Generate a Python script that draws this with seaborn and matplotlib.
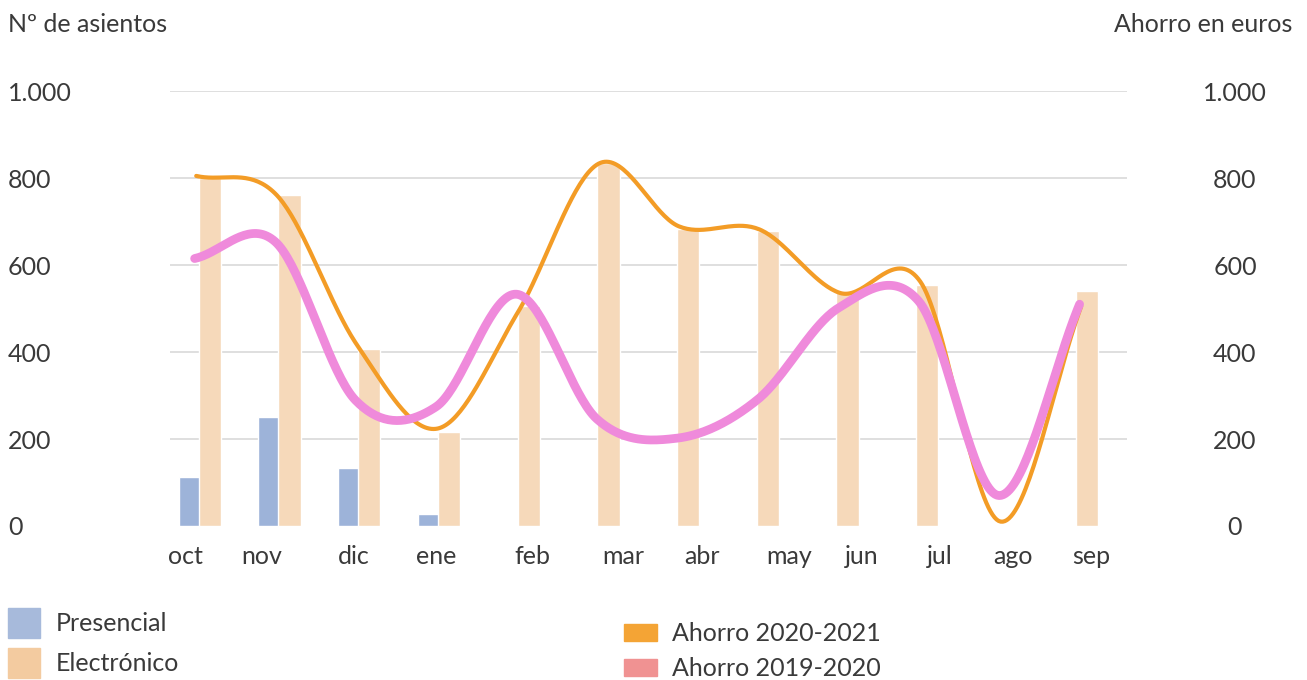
import numpy as np
import pandas as pd
import matplotlib
matplotlib.use('Agg')
import matplotlib.pyplot as plt
import seaborn as sns
from matplotlib.patches import Patch

meses = ['oct', 'nov', 'dic', 'ene', 'feb', 'mar', 'abr', 'may', 'jun', 'jul', 'ago', 'sep']
presencial = [112, 251, 133, 27, 0, 0, 0, 0, 0, 0, 0, 0]
electronico = [800, 760, 408, 215, 506, 834, 682, 679, 540, 555, 0, 540]
ahorro_2021 = [805, 761, 416, 224, 492, 833, 689, 682, 536, 562, 10, 505]
ahorro_2020 = [615, 654, 289, 274, 533, 246, 202, 291, 501, 517, 70, 510]
yticks = [0, 200, 400, 600, 800, 1000]
ytick_labels = ['0', '200', '400', '600', '800', '1.000']


def suave(x, y, n=40):
    # curva catmull-rom, parecida a la linea suavizada de Excel
    p = np.column_stack([x, y]).astype(float)
    m = np.zeros_like(p)
    m[1:-1] = (p[2:] - p[:-2]) / 2
    m[0] = p[1] - p[0]
    m[-1] = p[-1] - p[-2]
    t = np.linspace(0, 1, n)[:, None]
    h00 = 2*t**3 - 3*t**2 + 1
    h10 = t**3 - 2*t**2 + t
    h01 = -2*t**3 + 3*t**2
    h11 = t**3 - t**2
    seg = [h00*p[i] + h10*m[i] + h01*p[i+1] + h11*m[i+1] for i in range(len(p)-1)]
    c = np.vstack(seg)
    return c[:, 0], c[:, 1]


sns.set_theme(style='white')
plt.rcParams['font.family'] = ['Lato', 'DejaVu Sans']
txt = '#3A3A3A'

fig = plt.figure(figsize=(13.07, 6.8), dpi=100)
ax = fig.add_axes([0.130, 0.2265, 0.732, 0.6395])

idx = np.arange(len(meses))
sns.barplot(x=idx - 0.25, y=presencial, native_scale=True, width=0.28,
            color='#9DB3D9', saturation=1, ax=ax)
sns.barplot(x=idx.astype(float), y=electronico, native_scale=True, width=0.28,
            color='#F6D9BA', saturation=1, ax=ax)

xl = np.linspace(-0.17, 10.93, len(meses))
xs, ys = suave(xl, ahorro_2021)
ax.plot(xs, ys, color='#F39C26', lw=3.0, solid_capstyle='round', zorder=3)
xs, ys = suave(xl - 0.02, ahorro_2020)
ax.plot(xs, ys, color='#EF8ADB', lw=6.3, solid_capstyle='round', zorder=4)

# las etiquetas de los meses no estan centradas en el original
desplaz = np.array([-24, -28, -15, -13, 4, 15, 14, 21, 14, 12, 6, 5]) / 79.75
ax.set_xlim(-0.5, 11.5)
ax.set_ylim(0, 1000)
ax.set_xticks(idx + desplaz)
ax.set_xticklabels(meses)
ax.set_yticks(yticks)
ax.set_yticklabels(ytick_labels)
ax.yaxis.grid(True, color='#D9D9D9', lw=1.2)
ax.xaxis.grid(False)
ax.set_axisbelow(True)
ax.get_ygridlines()[0].set_visible(False)
for s in ax.spines.values():
    s.set_visible(False)
ax.tick_params(axis='x', length=0, pad=14, labelsize=18, labelcolor=txt)
ax.tick_params(axis='y', length=0, pad=116.6, labelsize=18, labelcolor=txt)
for lab in ax.get_yticklabels():
    lab.set_ha('left')
ax.set_xlabel('')
ax.set_ylabel('')

ax2 = ax.twinx()
ax2.set_ylim(0, 1000)
ax2.set_yticks(yticks)
ax2.set_yticklabels(ytick_labels)
ax2.tick_params(axis='y', length=0, pad=78, labelsize=18, labelcolor=txt)
for lab in ax2.get_yticklabels():
    lab.set_ha('center')
for s in ax2.spines.values():
    s.set_visible(False)
ax2.grid(False)

fig.text(8/1307, 1 - 24/680, 'Nº de asientos', fontsize=18, color=txt, ha='left', va='center')
fig.text(1292/1307, 1 - 24/680, 'Ahorro en euros', fontsize=18, color=txt, ha='right', va='center')

h1 = [Patch(color='#A7BADB', label='Presencial'), Patch(color='#F3CBA0', label='Electrónico')]
fig.legend(handles=h1, loc='upper left', bbox_to_anchor=(8/1307, 1 - 608/680),
           frameon=False, fontsize=18, handlelength=1.28, handleheight=1.45,
           handletextpad=0.64, labelspacing=0.42, borderpad=0, borderaxespad=0,
           labelcolor=txt)
h2 = [Patch(color='#F4A435', label='Ahorro 2020-2021'), Patch(color='#F09292', label='Ahorro 2019-2020')]
fig.legend(handles=h2, loc='upper left', bbox_to_anchor=(624/1307, 1 - 622/680),
           frameon=False, fontsize=18, handlelength=1.32, handleheight=0.68,
           handletextpad=0.6, labelspacing=0.5, borderpad=0, borderaxespad=0,
           labelcolor=txt)

fig.savefig('out.png', dpi=100)
